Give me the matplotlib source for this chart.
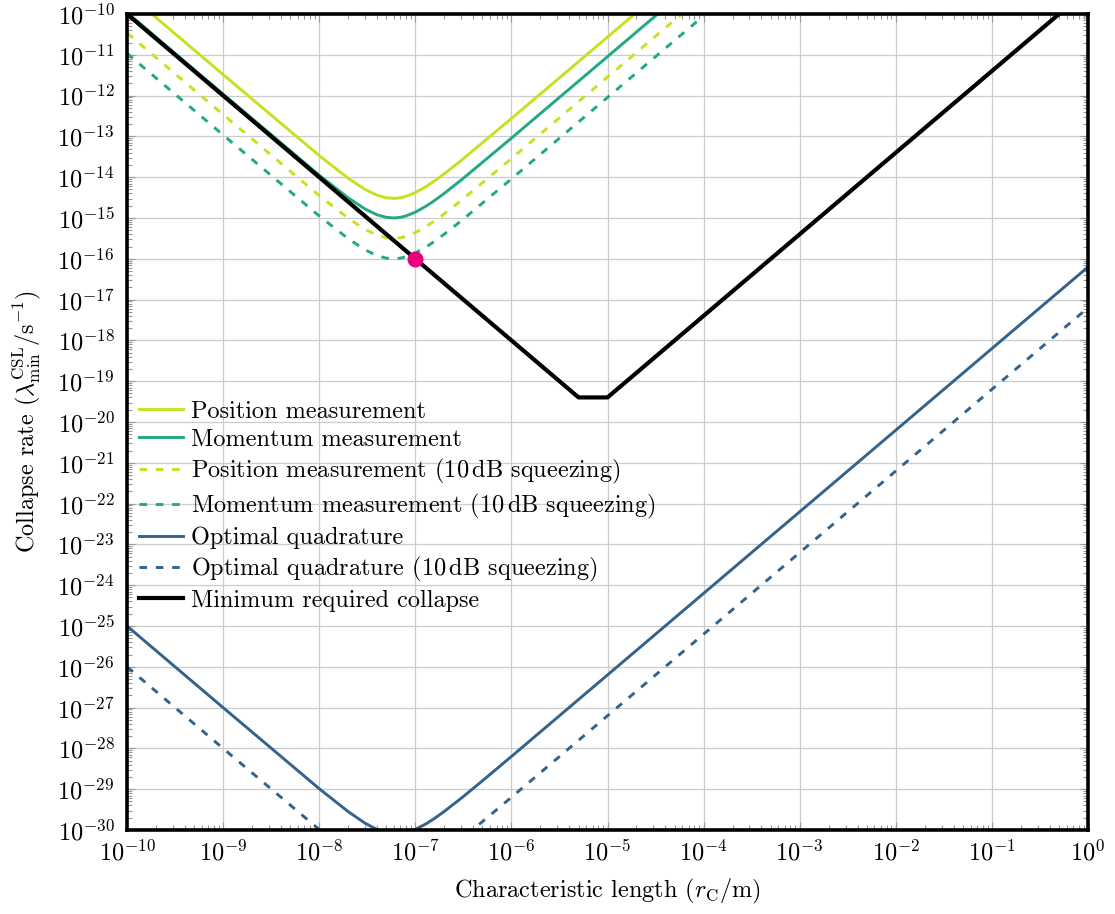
import numpy as np
import matplotlib
matplotlib.use("Agg")
import matplotlib.pyplot as plt
from matplotlib.ticker import LogLocator, NullFormatter

plt.rcParams['font.family'] = 'serif'
plt.rcParams['font.serif'] = ['cmr10', 'DejaVu Serif']
plt.rcParams['mathtext.fontset'] = 'cm'
plt.rcParams['axes.unicode_minus'] = False
plt.rcParams['axes.formatter.use_mathtext'] = True

# ---- data (log10 values) ----
# measurement curves share one x grid
meas_x = [1e-10, 1e-9, 1e-8, 2e-8, 3e-8, 4e-8, 5e-8, 6e-8, 7e-8, 8e-8,
          1e-7, 1.3e-7, 1.6e-7, 2e-7, 3e-7, 1e-6, 1e-5, 1e-4]
pos_exp = [-9.485, -11.485, -13.47, -14.026, -14.30, -14.442, -14.505, -14.52, -14.504,
           -14.47, -14.378, -14.227, -14.085, -13.917, -13.591, -12.563, -10.565, -8.565]
mom_exp = [-9.965, -11.965, -13.95, -14.506, -14.78, -14.922, -14.985, -15.0, -14.984,
           -14.95, -14.858, -14.707, -14.565, -14.397, -14.071, -13.043, -11.045, -9.045]
pos_sq_exp = [-10.465, -12.465, -14.45, -15.006, -15.28, -15.422, -15.485, -15.5, -15.484,
              -15.45, -15.358, -15.207, -15.065, -14.897, -14.571, -13.543, -11.545, -9.545]
mom_sq_exp = [-10.965, -12.965, -14.95, -15.506, -15.78, -15.922, -15.985, -16.0, -15.984,
              -15.95, -15.858, -15.707, -15.565, -15.397, -15.071, -14.043, -12.045, -10.045]

opt_x = [1e-10, 1e-9, 1e-8, 2e-8, 3e-8, 4e-8, 5e-8, 6e-8, 8e-8, 1e-7,
         1.3e-7, 1.6e-7, 2e-7, 3e-7, 5e-7, 1e-6, 1e-5, 1.0]
opt_exp = [-25.0, -27.0, -28.987, -29.548, -29.833, -29.988, -30.066, -30.094, -30.065,
           -29.986, -29.846, -29.709, -29.545, -29.223, -28.794, -28.198, -26.2, -16.2]
opt_sq_exp = [-26.0, -28.0, -29.987, -30.548, -30.833, -30.988, -31.066, -31.094, -31.065,
              -30.986, -30.846, -30.709, -30.545, -30.223, -29.794, -29.198, -27.2, -17.2]

min_x = [1e-10, 5e-6, 1e-5, 0.5]
min_y = [1e-10, 4e-20, 4e-20, 1e-10]

point_x = [1e-7]
point_y = [1e-16]

labels = ['Position measurement',
          'Momentum measurement',
          r'Position measurement (10$\,$dB squeezing)',
          r'Momentum measurement (10$\,$dB squeezing)',
          'Optimal quadrature',
          r'Optimal quadrature (10$\,$dB squeezing)',
          'Minimum required collapse']

c_pos = '#c8e020'
c_mom = '#22a884'
c_opt = '#33638d'
dash = (2.6, 3.0)
fs = 17.5

fig = plt.figure(figsize=(11.15, 9.14), dpi=100)
ax = fig.add_axes([0.1139, 0.0919, 0.8619, 0.8928])

lw = 2.1
ax.plot(meas_x, 10.0 ** np.array(pos_exp), color=c_pos, lw=lw, label=labels[0])
ax.plot(meas_x, 10.0 ** np.array(mom_exp), color=c_mom, lw=lw, label=labels[1])
ax.plot(meas_x, 10.0 ** np.array(pos_sq_exp), color=c_pos, lw=lw, dashes=dash, label=labels[2])
ax.plot(meas_x, 10.0 ** np.array(mom_sq_exp), color=c_mom, lw=lw, dashes=dash, label=labels[3])
ax.plot(opt_x, 10.0 ** np.array(opt_exp), color=c_opt, lw=lw, label=labels[4])
ax.plot(opt_x, 10.0 ** np.array(opt_sq_exp), color=c_opt, lw=lw, dashes=dash, label=labels[5])
ax.plot(min_x, min_y, color='black', lw=3.0, label=labels[6], zorder=4)
ax.plot(point_x, point_y, 'o', color='#e6007e', ms=10.5, zorder=5, clip_on=False)

ax.set_xscale('log')
ax.set_yscale('log')
ax.set_xlim(1e-10, 1)
ax.set_ylim(1e-30, 1e-10)
ax.set_xticks(10.0 ** np.arange(-10, 1))
ax.set_yticks(10.0 ** np.arange(-30, -9))
ax.xaxis.set_minor_locator(LogLocator(base=10, subs=np.arange(2, 10), numticks=100))
ax.yaxis.set_minor_locator(LogLocator(base=10, subs=np.arange(2, 10), numticks=100))
ax.xaxis.set_minor_formatter(NullFormatter())
ax.yaxis.set_minor_formatter(NullFormatter())

ax.tick_params(which='both', direction='in', top=True, right=True,
               color='#999999', labelsize=fs)
ax.tick_params(axis='y', pad=9)
ax.tick_params(axis='x', pad=7)
ax.tick_params(which='major', length=6, width=0.8)
ax.tick_params(which='minor', length=3.5, width=0.8)

ax.grid(True, which='major', color='#cccccc', lw=0.9)
ax.set_axisbelow(True)
for s in ax.spines.values():
    s.set_linewidth(2.6)

ax.set_xlabel(r'Characteristic length ($r_{\mathrm{C}}/\mathrm{m}$)', fontsize=fs, labelpad=8)
ax.set_ylabel(r'Collapse rate ($\lambda_{\min}^{\mathrm{CSL}}/\mathrm{s}^{-1}$)', fontsize=fs,
              labelpad=10)

ax.legend(loc='upper left', bbox_to_anchor=(0.0, 0.541), frameon=False, fontsize=fs,
          handlelength=1.8, handletextpad=0.35, labelspacing=0.24, borderaxespad=0.1)

fig.savefig('out.png', dpi=100)
